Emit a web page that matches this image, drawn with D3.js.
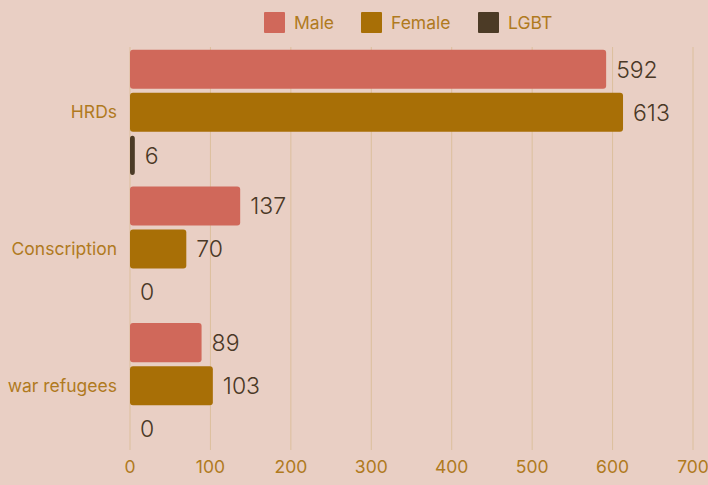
<!DOCTYPE html>
<html>
<head>
<meta charset="utf-8">
<script src="https://cdn.jsdelivr.net/npm/d3@7"></script>
<style>
	body { margin: 0; background: #e9cfc4; }
	svg { display: block; font-family: Inter, 'Noto Sans', sans-serif; }
</style>
</head>
<body>
<svg id="chart" width="708" height="485"></svg>
<script>
const categories = ['HRDs', 'Conscription', 'war refugees'];
const series = ['Male', 'Female', 'LGBT'];
const male = [592, 137, 89];
const female = [613, 70, 103];
const lgbt = [6, 0, 0];
const xTicks = [0, 100, 200, 300, 400, 500, 600, 700];

const colors = ['#d0685a', '#a86f06', '#4c3b26'];
const labelColor = '#b07a1e';

const width = 708;
const height = 485;
const margin = { top: 44, right: 15, bottom: 31, left: 130 };

const $svg = d3.select('#chart');

const rows = categories.map((c, i) => ({
	key: c,
	values: [male[i], female[i], lgbt[i]].map((v, j) => ({ series: series[j], value: v, idx: j }))
}));

const x = d3.scaleLinear().domain([0, 700]).range([margin.left, 693]);
const y0 = d3.scaleBand().domain(categories).range([margin.top, 454]);
const y1 = d3.scaleBand().domain(series).range([0, y0.bandwidth()]).paddingInner(0.093).paddingOuter(0.134);

// grid
$svg.append('g')
	.selectAll('line')
	.data(xTicks)
	.enter()
	.append('line')
	.attr('x1', d => x(d))
	.attr('x2', d => x(d))
	.attr('y1', 47)
	.attr('y2', 450)
	.attr('stroke', '#dcbf9c')
	.attr('stroke-width', 1);

// bars
const $groups = $svg.append('g')
	.selectAll('g')
	.data(rows)
	.enter()
	.append('g')
	.attr('transform', d => `translate(0,${y0(d.key)})`);

$groups.selectAll('rect')
	.data(d => d.values.filter(v => v.value > 0))
	.enter()
	.append('rect')
	.attr('x', x(0))
	.attr('y', d => y1(d.series))
	.attr('width', d => x(d.value) - x(0))
	.attr('height', y1.bandwidth())
	.attr('rx', 3)
	.attr('fill', d => colors[d.idx]);

$groups.selectAll('text')
	.data(d => d.values)
	.enter()
	.append('text')
	.attr('x', d => x(d.value) + 10)
	.attr('y', d => y1(d.series) + y1.bandwidth() / 2)
	.attr('dy', '0.36em')
	.attr('font-size', 23)
	.attr('font-weight', 300)
	.attr('fill', '#4a3826')
	.text(d => d.value);

// category labels
$svg.append('g')
	.selectAll('text')
	.data(categories)
	.enter()
	.append('text')
	.attr('x', 117)
	.attr('y', d => y0(d) + y0.bandwidth() / 2)
	.attr('dy', '0.35em')
	.attr('text-anchor', 'end')
	.attr('font-size', 17.5)
	.attr('fill', labelColor)
	.text(d => d);

// x tick labels
$svg.append('g')
	.selectAll('text')
	.data(xTicks)
	.enter()
	.append('text')
	.attr('x', d => x(d))
	.attr('y', 467)
	.attr('dy', '0.35em')
	.attr('text-anchor', 'middle')
	.attr('font-size', 17.5)
	.attr('fill', labelColor)
	.text(d => d);

// legend
const legendX = [264, 361, 478];
const $legend = $svg.append('g')
	.selectAll('g')
	.data(series)
	.enter()
	.append('g')
	.attr('transform', (d, i) => `translate(${legendX[i]},12)`);

$legend.append('rect')
	.attr('width', 21)
	.attr('height', 21)
	.attr('rx', 1)
	.attr('fill', (d, i) => colors[i]);

$legend.append('text')
	.attr('x', 30)
	.attr('y', 11)
	.attr('dy', '0.35em')
	.attr('font-size', 17.5)
	.attr('fill', labelColor)
	.text(d => d);
</script>
</body>
</html>
